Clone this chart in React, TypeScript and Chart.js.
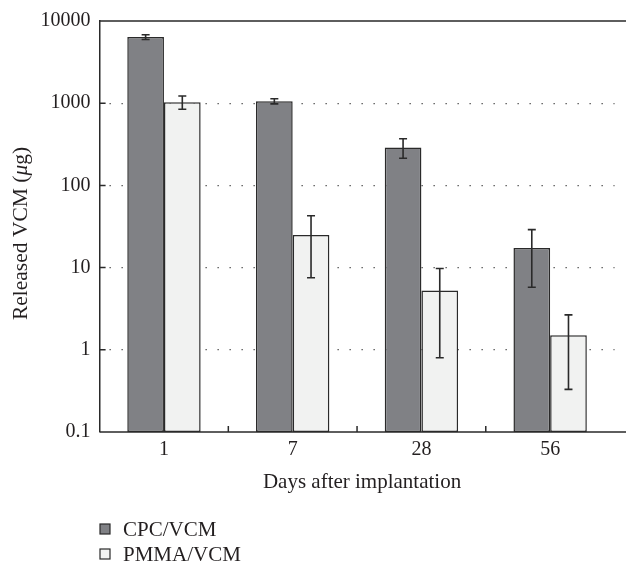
import React, { useEffect, useRef } from "react";
import { Chart, registerables } from "chart.js";

Chart.register(...registerables);

const categories = ["1", "7", "28", "56"];
const cpcValues = [6370, 1055, 290, 17.3];
const cpcLow = [5960, 980, 214, 5.77];
const cpcHigh = [6790, 1135, 369, 29.0];
const pmmaValues = [1026, 24.9, 5.26, 1.5];
const pmmaLow = [845, 7.54, 0.8, 0.33];
const pmmaHigh = [1222, 42.7, 9.75, 2.66];
const yTicks = [0.1, 1, 10, 100, 1000, 10000];
const gridValues = [1, 10, 100, 1000];
const seriesNames = ["CPC/VCM", "PMMA/VCM"];
const xTitle = "Days after implantation";
const yTitleParts = ["Released VCM (", "\u03bc", "g)"];

const FONT = "'Liberation Serif', 'DejaVu Serif', serif";
const FS = 20;
const FS_T = 21;
const FS_Y = 21.5;
const INK = "#231f20";
const LINE = "#2a2a2a";
const colors = ["#808185", "#f1f2f1"];

const lows = [cpcLow, pmmaLow];
const highs = [cpcHigh, pmmaHigh];

const errorBars = {
  id: "errorBars",
  afterDatasetsDraw(chart: any) {
    const ctx = chart.ctx;
    const ys = chart.scales.y;
    chart.data.datasets.forEach((_ds: any, i: number) => {
      const meta = chart.getDatasetMeta(i);
      meta.data.forEach((el: any, j: number) => {
        const x = el.x;
        const yl = ys.getPixelForValue(lows[i][j]);
        const yh = ys.getPixelForValue(highs[i][j]);
        ctx.save();
        ctx.strokeStyle = LINE;
        ctx.lineWidth = 1.6;
        ctx.beginPath();
        ctx.moveTo(x, yl);
        ctx.lineTo(x, yh);
        ctx.moveTo(x - 4, yl);
        ctx.lineTo(x + 4, yl);
        ctx.moveTo(x - 4, yh);
        ctx.lineTo(x + 4, yh);
        ctx.stroke();
        ctx.restore();
      });
    });
  },
};

const frame = {
  id: "frame",
  afterDraw(chart: any) {
    const ctx = chart.ctx;
    const { left, right, top, bottom } = chart.chartArea;
    const W = chart.width;
    const xs = chart.scales.x;
    const ys = chart.scales.y;
    ctx.save();
    ctx.strokeStyle = LINE;
    ctx.lineWidth = 1.5;
    ctx.beginPath();
    ctx.moveTo(left, top);
    ctx.lineTo(W, top);
    ctx.moveTo(left, bottom);
    ctx.lineTo(W, bottom);
    gridValues.forEach((v) => {
      const y = ys.getPixelForValue(v);
      ctx.moveTo(left, y);
      ctx.lineTo(left + 6, y);
    });
    for (let i = 0; i < categories.length - 1; i++) {
      const bx = (xs.getPixelForValue(i) + xs.getPixelForValue(i + 1)) / 2;
      ctx.moveTo(bx, bottom);
      ctx.lineTo(bx, bottom - 6);
    }
    ctx.stroke();

    // x title
    ctx.fillStyle = INK;
    ctx.font = `${FS_T}px ${FONT}`;
    ctx.textAlign = "center";
    ctx.textBaseline = "middle";
    ctx.fillText(xTitle, (left + right) / 2 + 5, 482);

    // y title (rotated, italic mu)
    ctx.save();
    ctx.translate(21, (top + bottom) / 2 + 7);
    ctx.rotate(-Math.PI / 2);
    ctx.textAlign = "left";
    ctx.textBaseline = "middle";
    const fonts = [`${FS_Y}px ${FONT}`, `italic ${FS_Y}px ${FONT}`, `${FS_Y}px ${FONT}`];
    let total = 0;
    yTitleParts.forEach((p, k) => {
      ctx.font = fonts[k];
      total += ctx.measureText(p).width;
    });
    let cx = -total / 2;
    yTitleParts.forEach((p, k) => {
      ctx.font = fonts[k];
      ctx.fillText(p, cx, 0);
      cx += ctx.measureText(p).width;
    });
    ctx.restore();

    // legend
    const rowsY = [529, 554];
    ctx.font = `${FS_T}px ${FONT}`;
    ctx.textAlign = "left";
    ctx.textBaseline = "middle";
    seriesNames.forEach((name, k) => {
      const y = rowsY[k];
      ctx.fillStyle = colors[k];
      ctx.fillRect(100, y - 5, 10, 10);
      ctx.strokeStyle = LINE;
      ctx.lineWidth = 1.2;
      ctx.strokeRect(100, y - 5, 10, 10);
      ctx.fillStyle = INK;
      ctx.fillText(name, 123, y + 1);
    });
    ctx.restore();
  },
};

export default function App() {
  const ref = useRef<HTMLCanvasElement | null>(null);

  useEffect(() => {
    if (!ref.current) return;
    const chart = new Chart(ref.current, {
      type: "bar",
      data: {
        labels: categories,
        datasets: [
          {
            label: seriesNames[0],
            data: cpcValues,
            backgroundColor: colors[0],
            borderColor: LINE,
            borderWidth: 1.5,
            borderSkipped: false,
            categoryPercentage: 0.57,
            barPercentage: 1.0,
          },
          {
            label: seriesNames[1],
            data: pmmaValues,
            backgroundColor: colors[1],
            borderColor: LINE,
            borderWidth: 1.5,
            borderSkipped: false,
            categoryPercentage: 0.57,
            barPercentage: 1.0,
          },
        ],
      },
      options: {
        animation: false,
        responsive: false,
        maintainAspectRatio: false,
        layout: { padding: { left: 0, right: 11.5, top: 16, bottom: 99 } },
        plugins: {
          legend: { display: false },
          tooltip: { enabled: false },
          title: { display: false },
        },
        scales: {
          x: {
            type: "category",
            grid: { display: false, drawTicks: false },
            border: { display: false },
            ticks: {
              color: INK,
              font: { family: FONT, size: FS },
              padding: 6,
              maxRotation: 0,
            },
            afterFit: (s: any) => {
              s.height = 40;
            },
          },
          y: {
            type: "logarithmic",
            min: 0.1,
            max: 10000,
            afterBuildTicks: (s: any) => {
              s.ticks = yTicks.map((v) => ({ value: v }));
            },
            afterFit: (s: any) => {
              s.width = 99.6;
            },
            ticks: {
              color: INK,
              font: { family: FONT, size: FS },
              padding: 9,
              callback: (v: any) => (Number(v) < 1 ? String(Number(v)) : String(Math.round(Number(v)))),
            },
            grid: {
              drawTicks: false,
              color: (c: any) =>
                gridValues.includes(c.tick && c.tick.value) ? "#4a4a4a" : "rgba(0,0,0,0)",
              lineWidth: 1.3,
            },
            border: { display: true, color: LINE, width: 1.5, dash: [1.3, 10.7], dashOffset: -9 },
          },
        },
      },
      plugins: [errorBars, frame],
    });
    return () => chart.destroy();
  }, []);

  return (
    <div style={{ position: "fixed", left: 0, top: 0, width: 626, height: 571, background: "#fff" }}>
      <canvas ref={ref} width={626} height={571} style={{ width: 626, height: 571 }} />
    </div>
  );
}
